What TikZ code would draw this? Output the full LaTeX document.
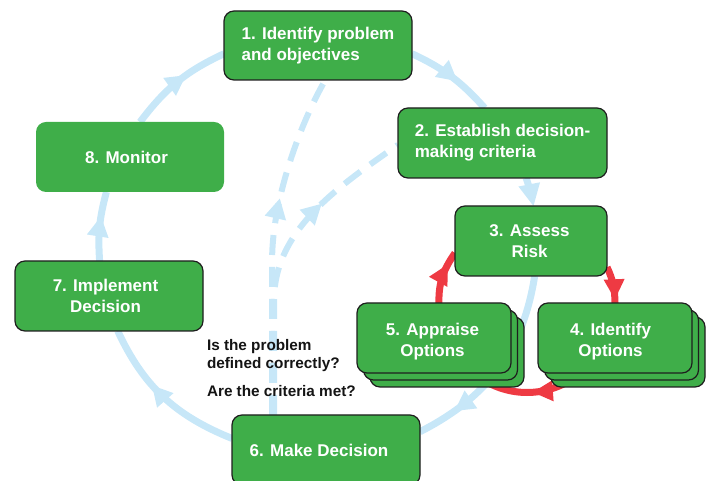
\documentclass[tikz,border=0pt]{standalone}
\usepackage{fontspec}
\setmainfont{Liberation Sans}
\usetikzlibrary{arrows.meta,decorations.markings,shadows}
\pgfdeclarelayer{background}
\pgfsetlayers{background,main}
\definecolor{boxgreen}{RGB}{63,174,73}
\definecolor{boxline}{RGB}{30,30,30}
\definecolor{cycblue}{RGB}{199,231,248}
\definecolor{loopred}{RGB}{238,58,67}
\definecolor{qtext}{RGB}{20,20,20}
\newcommand{\padr}[1]{\rule{#1}{0pt}}
\begin{document}
\begin{tikzpicture}[x=1pt,y=1pt,
  stage/.style={rectangle, rounded corners=10pt, fill=boxgreen, draw=boxline, line width=1.2pt,
     inner sep=0pt, outer sep=0pt, text=white, align=center,
     font=\fontsize{17}{21}\selectfont\bfseries},
  stagebare/.style={stage, draw=none},
  stack/.style={double copy shadow={shadow xshift=6.5pt, shadow yshift=-7pt, fill=boxgreen, draw=boxline, line width=1.2pt}},
  qlabel/.style={inner sep=0pt, outer sep=0pt, text=qtext, align=left,
     font=\fontsize{15.3}{18}\selectfont\bfseries},
  cyc/.style={draw=cycblue, color=cycblue, line width=7pt},
  feedback/.style={draw=cycblue, color=cycblue, line width=6pt, dash pattern=on 20pt off 12pt},
  redloop/.style={draw=loopred, color=loopred, line width=7pt},
  midarrow/.style={postaction={decorate, decoration={markings,
     mark=at position #1 with {\arrow{Triangle[width=22pt,length=20pt,line width=0pt]}}}}},
  midarrowred/.style={postaction={decorate, decoration={markings,
     mark=at position #1 with {\arrow{Triangle[width=21pt,length=20pt,line width=0pt]}}}}}
]
\useasboundingbox (0,0) rectangle (711,481);

\node[stage, minimum width=188pt, minimum height=69pt, align=left] (n1) at (318,435.5) {1. Identify problem\\and objectives};
\node[stage, minimum width=209pt, minimum height=70pt, align=left] (n2) at (502.5,338) {2. Establish decision-\\making criteria};
\node[stage, minimum width=152pt, minimum height=70pt] (n3) at (531,240) {3. Assess\padr{3pt}\\Risk\padr{3pt}};
\node[stage, stack, minimum width=154pt, minimum height=70pt] (n4) at (615,143) {\rule{0pt}{19.5pt}4. Identify\padr{9pt}\\Options\padr{9pt}};
\node[stage, stack, minimum width=154pt, minimum height=70pt] (n5) at (434,143) {\rule{0pt}{19.5pt}5. Appraise\padr{3pt}\\Options\padr{3pt}};
\node[stage, minimum width=188pt, minimum height=70pt] (n6) at (326,31) {6. Make Decision\padr{14pt}};
\node[stage, minimum width=188pt, minimum height=70pt] (n7) at (109,185) {7. Implement\padr{7pt}\\Decision\padr{7pt}};
\node[stagebare, minimum width=188pt, minimum height=70pt] (n8) at (130,324) {8. Monitor\padr{7pt}};

\node[qlabel, anchor=north west] (q1) at (207,141.2) {Is the problem\\defined correctly?};
\node[qlabel, anchor=base west] (q2) at (207,84) {Are the criteria met?};

\begin{pgfonlayer}{background}
\draw[cyc, midarrow=0.6] (n8.74) to[out=53,in=205] (n1.185);
\draw[cyc, midarrow=0.58] (n1.-5) to[out=-25,in=132] (n2.117);
\draw[cyc, -{Triangle[width=22pt,length=22pt,line width=0pt]}] (n2.-56) to[out=-71,in=101] (n3.86);
\draw[cyc, midarrow=0.8] (n3.-84) to[out=-99,in=27] (n6.11);
\draw[cyc, midarrow=0.6] (n6.173) to[out=158,in=-65] (n7.-76);
\draw[cyc, midarrow=0.64] (n7.105) to[out=94,in=255] (n8.236);
\draw[feedback, midarrow=0.63] (n6.147) -- ++(0,155) .. controls +(0,60) and +(-25,-43) .. (n1.-78);
\draw[feedback, midarrow=0.7] (n6.146) -- ++(0,115) .. controls +(0,70) and +(-60,-42) .. (n2.181);
\draw[redloop, midarrowred=0.9] (n3.-19) to[out=-65,in=91] (n4.90);
\draw[redloop, midarrowred=0.45] (n4.226) to[out=-142,in=-38] (n5.-42);
\draw[redloop, midarrowred=0.75] (n5.82) to[out=91,in=235] (n3.189);
\end{pgfonlayer}
\end{tikzpicture}
\end{document}
